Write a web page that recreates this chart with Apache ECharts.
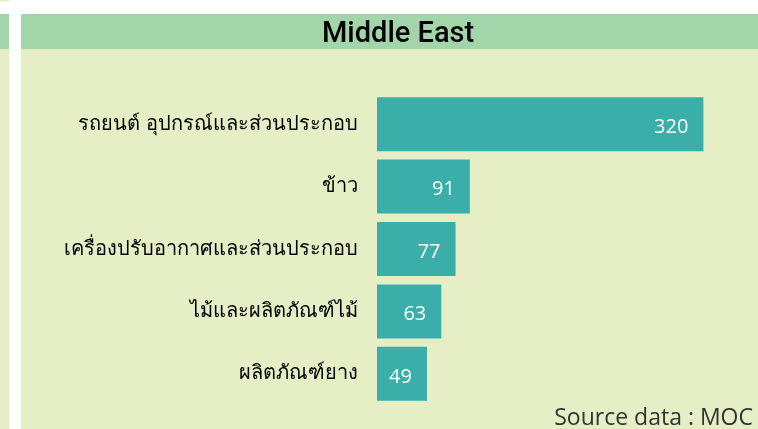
<!DOCTYPE html>
<html>
<head>
<meta charset="utf-8">
<script src="https://cdn.jsdelivr.net/npm/echarts@6/dist/echarts.min.js"></script>
<style>
  html, body { margin: 0; padding: 0; background: #fff; }
  #chart { width: 758px; height: 429px; }
</style>
</head>
<body>
<div id="chart"></div>
<script>
const categories = [
  'รถยนต์ อุปกรณ์และส่วนประกอบ',
  'ข้าว',
  'เครื่องปรับอากาศและส่วนประกอบ',
  'ไม้และผลิตภัณฑ์ไม้',
  'ผลิตภัณฑ์ยาง'
];
const values = [320, 91, 77, 63, 49];
const title = 'Middle East';
const source = 'Source data : MOC';

const chart = echarts.init(document.getElementById('chart'));

chart.setOption({
  animation: false,
  backgroundColor: '#fff',
  graphic: [
    // neighbouring panel cut off on the left
    { type: 'rect', z: -10, shape: { x: 0, y: 0, width: 9, height: 1.5 }, style: { fill: '#e5eec4' } },
    { type: 'rect', z: -10, shape: { x: 0, y: 14, width: 9, height: 415 }, style: { fill: '#e5eec4' } },
    { type: 'rect', z: -9, shape: { x: 0, y: 14, width: 9, height: 35 }, style: { fill: '#a3d5ab' } },
    // main panel
    { type: 'rect', z: -10, shape: { x: 21, y: 14, width: 737, height: 415 }, style: { fill: '#e5eec4' } },
    { type: 'rect', z: -9, shape: { x: 21, y: 14, width: 737, height: 35 }, style: { fill: '#a3d5ab' } },
    {
      type: 'text', left: 322, top: 20,
      style: { text: title, fontSize: 29, fontWeight: 500, fontFamily: 'Roboto', fill: '#000' }
    },
    {
      type: 'text', right: 5, bottom: -1,
      style: { text: source, fontSize: 23, fontFamily: 'Open Sans', fill: '#333' }
    }
  ],
  grid: { left: 377, top: 93, height: 312, right: 24 },
  xAxis: {
    type: 'value', min: 0, max: 350,
    show: false
  },
  yAxis: {
    type: 'category',
    data: categories,
    inverse: true,
    axisLine: { show: false },
    axisTick: { show: false },
    axisLabel: { fontSize: 20, color: '#000', margin: 19 }
  },
  series: [{
    type: 'bar',
    data: values,
    barWidth: 54,
    itemStyle: { color: '#3aaea9' },
    label: {
      show: true,
      position: 'insideRight',
      distance: 15,
      offset: [0, 3],
      color: '#fff',
      fontSize: 20,
      fontFamily: 'Open Sans'
    }
  }]
});
</script>
</body>
</html>
